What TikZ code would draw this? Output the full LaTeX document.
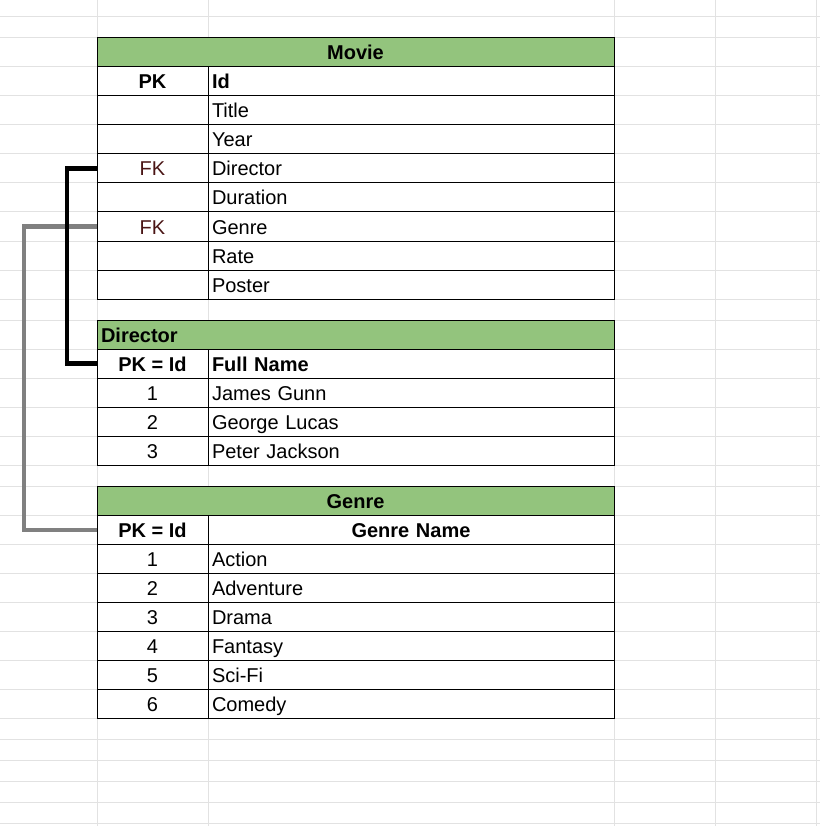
\documentclass[tikz,border=0pt]{standalone}
\usepackage{fontspec}
\setmainfont{Liberation Sans}
\definecolor{hdr}{HTML}{93C47D}
\definecolor{gridc}{HTML}{E2E2E2}
\definecolor{fkc}{HTML}{4A1515}
\definecolor{gline}{HTML}{808080}
\tikzset{
  cellbase/.style={inner sep=0pt, outer sep=0pt, anchor=north west, minimum height=29pt,
    text height=17pt, text depth=2pt, font=\fontsize{20}{24}\selectfont,
    draw=black, line width=1pt, fill=white},
  lc/.style={cellbase, minimum width=111pt},
  rc/.style={cellbase, text width=398pt, inner xsep=4pt, align=left},
  rcc/.style={rc, align=center},
  hdrc/.style={cellbase, fill=hdr, font=\fontsize{20}{24}\selectfont\bfseries, minimum width=517pt},
  hdrl/.style={cellbase, fill=hdr, font=\fontsize{20}{24}\selectfont\bfseries, text width=509pt, inner xsep=4pt, align=left},
  boldtxt/.style={font=\fontsize{20}{24}\selectfont\bfseries},
  fktxt/.style={text=fkc},
  fkblack/.style={draw=black, line width=4.5pt},
  fkgray/.style={draw=gline, line width=4pt},
  gridline/.style={draw=gridc, line width=1pt}
}
\begin{document}
\begin{tikzpicture}[x=1pt, y=-1pt]
\useasboundingbox (0,0) rectangle (820,826);
\fill[white] (0,0) rectangle (820,826);
% spreadsheet grid
\foreach \yy in {17,38,67,96,125,154,183,212,241,270,299,320,349,378,407,436,465,486,515,544,573,602,631,660,689,718,739,760,781,802,823}
  \draw[gridline] (0,\yy) -- (820,\yy);
\foreach \xx in {97,208,614,715,816}
  \draw[gridline] (\xx,0) -- (\xx,826);
% Movie table
\node[hdrc] (mhead) at (97,38) {Movie};
\node[lc, boldtxt] (mpk) at (97,67) {PK};
\node[rc, boldtxt] (mid) at (208,67) {Id};
\node[lc] (mtl) at (97,96) {};
\node[rc] (mtitle) at (208,96) {Title};
\node[lc] (myl) at (97,125) {};
\node[rc] (myear) at (208,125) {Year};
\node[lc, fktxt] (mdir) at (97,154) {FK};
\node[rc] (mdirector) at (208,154) {Director};
\node[lc] (mdl) at (97,183) {};
\node[rc] (mduration) at (208,183) {Duration};
\node[lc, fktxt] (mgen) at (97,212) {FK};
\node[rc] (mgenre) at (208,212) {Genre};
\node[lc] (mrl) at (97,241) {};
\node[rc] (mrate) at (208,241) {Rate};
\node[lc] (mpl) at (97,270) {};
\node[rc] (mposter) at (208,270) {Poster};
% Director table
\node[hdrl] (dhead) at (97,320) {Director};
\node[lc, boldtxt] (dpk) at (97,349) {PK = Id};
\node[rc, boldtxt] (dname) at (208,349) {Full Name};
\node[lc] (d1) at (97,378) {1};
\node[rc] (d1n) at (208,378) {James Gunn};
\node[lc] (d2) at (97,407) {2};
\node[rc] (d2n) at (208,407) {George Lucas};
\node[lc] (d3) at (97,436) {3};
\node[rc] (d3n) at (208,436) {Peter Jackson};
% Genre table
\node[hdrc] (ghead) at (97,486) {Genre};
\node[lc, boldtxt] (gpk) at (97,515) {PK = Id};
\node[rcc, boldtxt] (gname) at (208,515) {Genre Name};
\node[lc] (g1) at (97,544) {1};
\node[rc] (g1n) at (208,544) {Action};
\node[lc] (g2) at (97,573) {2};
\node[rc] (g2n) at (208,573) {Adventure};
\node[lc] (g3) at (97,602) {3};
\node[rc] (g3n) at (208,602) {Drama};
\node[lc] (g4) at (97,631) {4};
\node[rc] (g4n) at (208,631) {Fantasy};
\node[lc] (g5) at (97,660) {5};
\node[rc] (g5n) at (208,660) {Sci-Fi};
\node[lc] (g6) at (97,689) {6};
\node[rc] (g6n) at (208,689) {Comedy};
% connectors
\draw[fkgray] (mgen.west) -- ++(-73,0) |- (gpk.west);
\draw[fkblack] (mdir.west) -- ++(-30,0) |- (dpk.west);
\end{tikzpicture}
\end{document}
